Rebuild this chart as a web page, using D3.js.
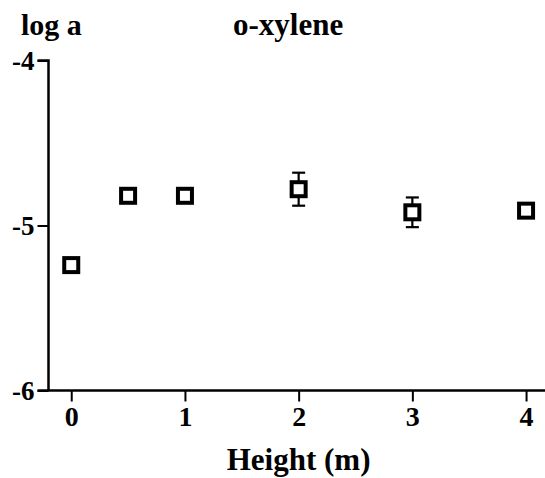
<!DOCTYPE html>
<html>
<head>
<meta charset="utf-8">
<script src="https://cdn.jsdelivr.net/npm/d3@7"></script>
<style>
  html, body { margin: 0; padding: 0; background: #fff; }
  svg { display: block; }
  text { font-family: "Liberation Serif", "Times New Roman", serif; font-weight: bold; fill: #000; }
</style>
</head>
<body>
<svg id="chart" width="545" height="478"></svg>
<script>
// Measured log activity of o-xylene at each sampling height
const heights = [0, 0.5, 1, 2, 3, 4];
const logA    = [-5.24, -4.82, -4.82, -4.78, -4.92, -4.91];
const errA    = [0.02, 0.02, 0.02, 0.10, 0.09, 0.02];

const xTicks = [0, 1, 2, 3, 4];
const yTicks = [-6, -5, -4];

const svg = d3.select("#chart");

const x = d3.scaleLinear().domain([-0.2, 4.2]).range([48.5, 548.8]);
const y = d3.scaleLinear().domain([-6, -4]).range([390.5, 60.5]);

// plain hyphen for negative tick labels
const fmt = d => String(d);

// Y axis
const yAxis = svg.append("g")
  .attr("transform", `translate(${x(-0.2)},0)`)
  .call(d3.axisLeft(y).tickValues(yTicks).tickFormat(fmt).tickSize(11).tickPadding(3));
yAxis.select(".domain").attr("d", `M-11,${y(-4)}H0V${y(-6)}`).attr("stroke", "#000").attr("stroke-width", 2.5);
yAxis.selectAll(".tick line").attr("stroke", "#000").attr("stroke-width", 2);
yAxis.selectAll(".tick text").style("font-size", "27px").attr("dy", "0.34em");

// X axis
const xAxis = svg.append("g")
  .attr("transform", `translate(0,${y(-6)})`)
  .call(d3.axisBottom(x).tickValues(xTicks).tickFormat(fmt).tickSize(11).tickPadding(5));
xAxis.select(".domain").attr("d", `M${x(-0.2) - 11},0H${x(4.2)}`).attr("stroke", "#000").attr("stroke-width", 2.5);
xAxis.selectAll(".tick line").attr("stroke", "#000").attr("stroke-width", 2);
xAxis.selectAll(".tick text").style("font-size", "28px");

// Error bars
const pts = heights.map((h, i) => ({ h, v: logA[i], e: errA[i] }));
const eb = svg.append("g").attr("stroke", "#000").attr("stroke-width", 2.2).attr("fill", "none");
pts.forEach(p => {
  const cx = x(p.h), top = y(p.v + p.e), bot = y(p.v - p.e);
  eb.append("line").attr("x1", cx).attr("x2", cx).attr("y1", top).attr("y2", bot);
  eb.append("line").attr("x1", cx - 6.5).attr("x2", cx + 6.5).attr("y1", top).attr("y2", top);
  eb.append("line").attr("x1", cx - 6.5).attr("x2", cx + 6.5).attr("y1", bot).attr("y2", bot);
});

// Open square markers
const s = 14;
svg.append("g").selectAll("rect").data(pts).join("rect")
  .attr("x", d => x(d.h) - s / 2)
  .attr("y", d => y(d.v) - s / 2)
  .attr("width", s).attr("height", s)
  .attr("fill", "#fff").attr("stroke", "#000").attr("stroke-width", 4);

// Labels
svg.append("text").attr("x", 21).attr("y", 35).style("font-size", "30px").text("log a");
svg.append("text").attr("x", 233).attr("y", 35).style("font-size", "31px").text("o-xylene");
svg.append("text").attr("x", x(2)).attr("y", 470).attr("text-anchor", "middle")
  .style("font-size", "31px").text("Height (m)");
</script>
</body>
</html>
